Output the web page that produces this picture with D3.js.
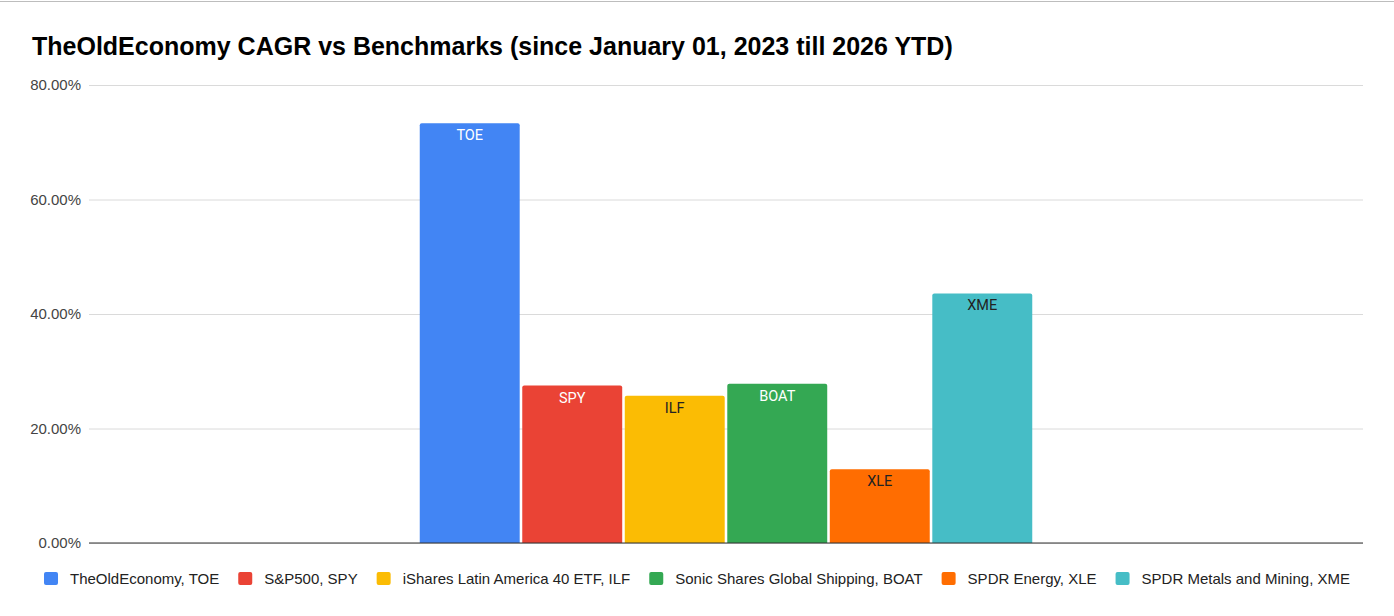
<!DOCTYPE html>
<html>
<head>
<meta charset="utf-8">
<script src="https://cdn.jsdelivr.net/npm/d3@7"></script>
<style>
  body { margin: 0; background: #fff; }
  svg { display: block; }
</style>
</head>
<body>
<div id="root"></div>
<script>
const TITLE = 'TheOldEconomy CAGR vs Benchmarks (since January 01, 2023 till 2026 YTD)';

// one category, six series
const categories = [''];
const tickers = ['TOE', 'SPY', 'ILF', 'BOAT', 'XLE', 'XME'];
const seriesNames = [
  'TheOldEconomy, TOE',
  'S&P500, SPY',
  'iShares Latin America 40 ETF, ILF',
  'Sonic Shares Global Shipping, BOAT',
  'SPDR Energy, XLE',
  'SPDR Metals and Mining, XME',
];
const cagr = [73.3, 27.5, 25.7, 27.8, 12.9, 43.6];
const yTicks = [0, 20, 40, 60, 80];

const colors = ['#4285f4', '#ea4335', '#fbbc04', '#34a853', '#ff6d01', '#46bdc6'];
const labelColors = ['#fff', '#fff', '#222', '#fff', '#222', '#222'];

const W = 1394, H = 616;
const margin = { top: 85, right: 31, bottom: 73, left: 89 };
const FONT = 'Arial, "Liberation Sans", sans-serif';

const svg = d3.select('#root').append('svg')
  .attr('width', W)
  .attr('height', H);

// spreadsheet edge at the very top
svg.append('line')
  .attr('x1', 0).attr('x2', W)
  .attr('y1', 1.5).attr('y2', 1.5)
  .attr('stroke', '#bdbdbd');

svg.append('text')
  .attr('x', 32)
  .attr('y', 55)
  .attr('font-family', FONT)
  .attr('font-weight', 'bold')
  .attr('font-size', 25)
  .attr('fill', '#000')
  .text(TITLE);

const x0 = d3.scaleBand()
  .domain(categories)
  .range([margin.left, W - margin.right])
  .paddingInner(0)
  .paddingOuter(0.54);

const x1 = d3.scaleBand()
  .domain(tickers)
  .range([0, x0.bandwidth()])
  .paddingInner(0.025)
  .paddingOuter(0);

const y = d3.scaleLinear()
  .domain([0, 80])
  .range([H - margin.bottom, margin.top]);

// gridlines + labels
const yAxis = d3.axisLeft(y)
  .tickValues(yTicks)
  .tickSize(-(W - margin.left - margin.right))
  .tickPadding(8)
  .tickFormat(d => d.toFixed(2) + '%');

const gy = svg.append('g')
  .attr('transform', `translate(${margin.left},0)`)
  .call(yAxis);
gy.select('.domain').remove();
gy.selectAll('.tick line').attr('stroke', '#dadada').attr('stroke-width', 1);
gy.selectAll('.tick text')
  .attr('font-family', FONT)
  .attr('font-size', 15)
  .attr('fill', '#444');

// bars
const data = tickers.map((t, i) => ({ t, v: cagr[i], c: colors[i], lc: labelColors[i] }));

const roundTop = (x, yTop, w, h, r) =>
  `M${x},${yTop + h}V${yTop + r}Q${x},${yTop} ${x + r},${yTop}H${x + w - r}Q${x + w},${yTop} ${x + w},${yTop + r}V${yTop + h}Z`;

const g = svg.append('g')
  .attr('transform', `translate(${x0('')},0)`);

g.selectAll('path.bar')
  .data(data)
  .join('path')
  .attr('class', 'bar')
  .attr('fill', d => d.c)
  .attr('d', d => roundTop(x1(d.t), y(d.v), x1.bandwidth(), y(0) - y(d.v), 2));

g.selectAll('text.lbl')
  .data(data)
  .join('text')
  .attr('class', 'lbl')
  .attr('x', d => x1(d.t) + x1.bandwidth() / 2)
  .attr('y', d => y(d.v) + 17)
  .attr('text-anchor', 'middle')
  .attr('font-family', 'Roboto, Arial, sans-serif')
  .attr('font-size', 14.5)
  .attr('fill', d => d.lc)
  .text(d => d.t);

// baseline
svg.append('line')
  .attr('x1', margin.left).attr('x2', W - margin.right)
  .attr('y1', y(0)).attr('y2', y(0))
  .attr('stroke', '#333')
  .attr('stroke-width', 1.2);

// legend, centred under the chart
const legend = svg.append('g');
const items = legend.selectAll('g')
  .data(seriesNames)
  .join('g');

items.append('rect')
  .attr('width', 14).attr('height', 13)
  .attr('rx', 2)
  .attr('y', 572)
  .attr('fill', (d, i) => colors[i]);

items.append('text')
  .attr('x', 26)
  .attr('y', 584)
  .attr('font-family', FONT)
  .attr('font-size', 15)
  .attr('fill', '#222')
  .text(d => d);

let cursor = 0;
items.each(function () {
  const w = d3.select(this).select('text').node().getComputedTextLength();
  d3.select(this).attr('transform', `translate(${cursor},0)`);
  cursor += 26 + w + 19;
});
const total = cursor - 19;
legend.attr('transform', `translate(${(W - total) / 2},0)`);
</script>
</body>
</html>
